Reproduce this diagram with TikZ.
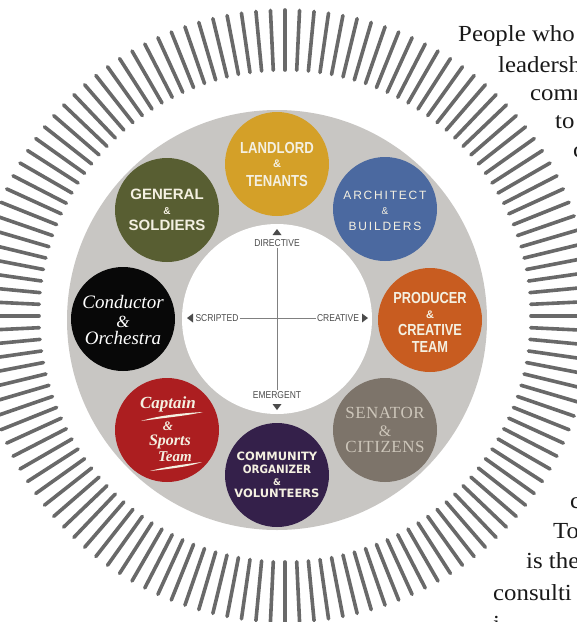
\documentclass[tikz,border=0pt]{standalone}
\usepackage{fontspec}
\usepackage{graphicx}
\setmainfont{Liberation Serif}
\newfontfamily\lsans{Liberation Sans}
\newfontfamily\dsans{DejaVu Sans}
\newfontfamily\spsans[LetterSpace=15]{Liberation Sans}
\newfontfamily\spserif[LetterSpace=3]{Liberation Serif}
\usetikzlibrary{calc}
\definecolor{ringgray}{RGB}{200,198,195}
\definecolor{stripegray}{RGB}{105,105,105}
\definecolor{cream}{RGB}{244,240,225}
\definecolor{cLand}{RGB}{212,160,40}
\definecolor{cArch}{RGB}{75,105,160}
\definecolor{cProd}{RGB}{200,92,32}
\definecolor{cSen}{RGB}{125,116,106}
\definecolor{cSenT}{RGB}{205,198,186}
\definecolor{cComm}{RGB}{52,32,74}
\definecolor{cCapt}{RGB}{172,30,32}
\definecolor{cCond}{RGB}{8,8,8}
\definecolor{cGen}{RGB}{88,94,50}
\definecolor{axgray}{RGB}{75,75,75}
\definecolor{txt}{RGB}{25,25,25}
\tikzset{
  disk/.style={circle, minimum size=104pt, inner sep=0pt},
  captext/.style={text=cream, inner sep=0pt, anchor=center},
  stripe/.style={draw=stripegray, line width=3.6pt, line cap=round},
  axlbl/.style={text=axgray, inner sep=1pt, font=\lsans\fontsize{10}{10}\selectfont},
  axline/.style={draw=gray, line width=0.6pt},
  side/.style={text=txt, inner sep=0pt, anchor=base west, font=\fontsize{23}{23}\selectfont}
}
\newcommand{\hsc}[2]{\scalebox{#1}[1]{#2}}
\begin{document}
\begin{tikzpicture}[x=1pt,y=-1pt]
\useasboundingbox (0,0) rectangle (577,622);
\begin{scope}
\clip (0,0) rectangle (577,622);
\fill[white] (0,0) rectangle (577,622);
% stripes
\foreach \i [evaluate=\i as \ang using \i*2.727273] in {0,...,131}
  \draw[stripe] (285,316) ++(\ang:246) -- ++(\ang:60);
% ring
\fill[ringgray] (277,320) circle[radius=210];
\fill[white] (277,319) circle[radius=95];

% axes
\node[axlbl] (dir) at (277,243) {\hsc{0.85}{DIRECTIVE}};
\node[axlbl] (emg) at (277,395) {\hsc{0.85}{EMERGENT}};
\node[axlbl] (scr) at (217,318) {\hsc{0.85}{SCRIPTED}};
\node[axlbl] (cre) at (338,318) {\hsc{0.85}{CREATIVE}};
\draw[axline] (dir.south) -- (emg.north);
\draw[axline] (scr.east) -- (cre.west);
\fill[axgray] (277,229) -- (281.5,235) -- (272.5,235) -- cycle;
\fill[axgray] (277,410) -- (281.5,404) -- (272.5,404) -- cycle;
\fill[axgray] (187,318) -- (193,313.5) -- (193,322.5) -- cycle;
\fill[axgray] (368,318) -- (362,313.5) -- (362,322.5) -- cycle;

% disks
\node[disk, fill=cLand] (land) at (277,164) {};
\node[disk, fill=cArch] (arch) at (385,209) {};
\node[disk, fill=cProd] (prod) at (430,320) {};
\node[disk, fill=cSen]  (sen)  at (385,430) {};
\node[disk, fill=cComm] (comm) at (277,475) {};
\node[disk, fill=cCapt] (capt) at (167,430) {};
\node[disk, fill=cCond] (cond) at (123,319) {};
\node[disk, fill=cGen]  (gen)  at (167,210) {};

% Landlord
\node[captext, font=\lsans\bfseries\fontsize{16}{16}\selectfont] at ($(land)+(0,-16)$) {\hsc{0.82}{LANDLORD}};
\node[captext, font=\lsans\bfseries\fontsize{11}{11}\selectfont] at ($(land)+(0,0)$) {\&};
\node[captext, font=\lsans\bfseries\fontsize{16}{16}\selectfont] at ($(land)+(0,17)$) {\hsc{0.82}{TENANTS}};

% Architect
\node[captext, font=\spsans\fontsize{12}{12}\selectfont] at ($(arch)+(0,-14)$) {ARCHITECT};
\node[captext, font=\spsans\fontsize{10}{10}\selectfont] at ($(arch)+(0,2)$) {\&};
\node[captext, font=\spsans\fontsize{12}{12}\selectfont] at ($(arch)+(0,17)$) {BUILDERS};

% Producer
\node[captext, font=\lsans\bfseries\fontsize{16}{16}\selectfont] at ($(prod)+(0,-22)$) {\hsc{0.8}{PRODUCER}};
\node[captext, font=\lsans\bfseries\fontsize{11}{11}\selectfont] at ($(prod)+(0,-5)$) {\&};
\node[captext, font=\lsans\bfseries\fontsize{16}{16}\selectfont] at ($(prod)+(0,10)$) {\hsc{0.8}{CREATIVE}};
\node[captext, font=\lsans\bfseries\fontsize{16}{16}\selectfont] at ($(prod)+(0,27)$) {\hsc{0.8}{TEAM}};

% Senator
\node[captext, text=cSenT, font=\spserif\fontsize{17}{17}\selectfont] at ($(sen)+(0,-17)$) {SENATOR};
\node[captext, text=cSenT, font=\spserif\fontsize{16}{16}\selectfont] at ($(sen)+(0,1)$) {\&};
\node[captext, text=cSenT, font=\spserif\fontsize{17}{17}\selectfont] at ($(sen)+(0,17)$) {CITIZENS};

% Community
\node[captext, font=\dsans\bfseries\fontsize{11.5}{11.5}\selectfont] at ($(comm)+(0,-19)$) {COMMUNITY};
\node[captext, font=\dsans\bfseries\fontsize{11.5}{11.5}\selectfont] at ($(comm)+(0,-6)$) {\hsc{0.9}{ORGANIZER}};
\node[captext, font=\dsans\bfseries\fontsize{9}{9}\selectfont] at ($(comm)+(0,7)$) {\&};
\node[captext, font=\dsans\bfseries\fontsize{11.5}{11.5}\selectfont] at ($(comm)+(0,18)$) {VOLUNTEERS};

% Captain
\node[captext, anchor=base, font=\bfseries\itshape\fontsize{17}{17}\selectfont] at ($(capt)+(1,-22)$) {Captain};
\node[captext, font=\bfseries\itshape\fontsize{13}{13}\selectfont] at ($(capt)+(1,-4)$) {\&};
\node[captext, anchor=base, font=\bfseries\itshape\fontsize{16}{16}\selectfont] at ($(capt)+(3,15)$) {Sports};
\node[captext, anchor=base, font=\bfseries\itshape\fontsize{15}{15}\selectfont] at ($(capt)+(8,31)$) {Team};
\fill[cream] (141,421) .. controls (160,415) and (185,413) .. (203,412)
  .. controls (186,416) and (162,418) .. (141,421) -- cycle;
\fill[cream] (150,471) .. controls (168,466) and (188,464) .. (202,462)
  .. controls (188,467) and (168,469) .. (150,471) -- cycle;

% Conductor
\node[captext, text=white, font=\itshape\fontsize{19}{19}\selectfont] at ($(cond)+(0,-17)$) {Conductor};
\node[captext, text=white, font=\itshape\fontsize{17}{17}\selectfont] at ($(cond)+(0,3)$) {\&};
\node[captext, text=white, font=\itshape\fontsize{19}{19}\selectfont] at ($(cond)+(0,19)$) {Orchestra};

% General
\node[captext, font=\lsans\bfseries\fontsize{15}{15}\selectfont] at ($(gen)+(0,-16)$) {GENERAL};
\node[captext, font=\lsans\bfseries\fontsize{10}{10}\selectfont] at ($(gen)+(0,1)$) {\&};
\node[captext, font=\lsans\bfseries\fontsize{15}{15}\selectfont] at ($(gen)+(0,15)$) {SOLDIERS};

% side text
\node[side] (t1) at (458,41) {\hsc{1.08}{People who}};
\node[side] (t2) at (498,72) {\hsc{1.08}{leadersh}};
\node[side] (t3) at (530,100) {\hsc{1.08}{comm}};
\node[side] (t4) at (555,128) {\hsc{1.08}{to}};
\node[side] (t5) at (573,157) {\hsc{1.08}{c}};
\node[side] (b1) at (570,508) {\hsc{1.08}{c}};
\node[side] (b2) at (553,538) {\hsc{1.08}{To}};
\node[side] (b3) at (526,568) {\hsc{1.08}{is the}};
\node[side] (b4) at (493,600) {\hsc{1.08}{consulti}};
\node[side] (b5) at (493,631) {\hsc{1.08}{i}};
\end{scope}
\end{tikzpicture}
\end{document}
